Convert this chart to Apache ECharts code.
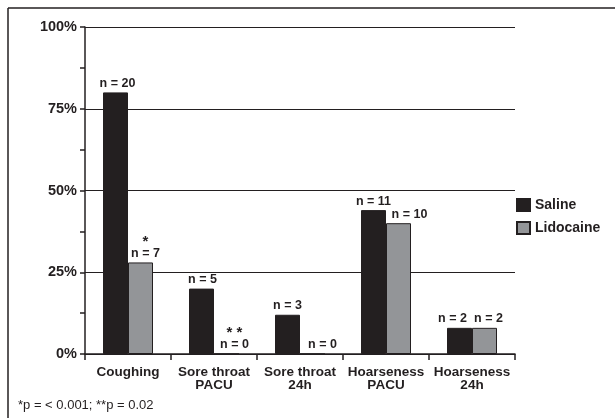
<!DOCTYPE html>
<html>
<head>
<meta charset="utf-8">
<script src="https://cdn.jsdelivr.net/npm/echarts@6/dist/echarts.min.js"></script>
<style>
html,body{margin:0;padding:0;background:#fff;}
#c{width:615px;height:418px;}
</style>
</head>
<body>
<div id="c"></div>
<script>
const categories = ['Coughing', 'Sore throat\nPACU', 'Sore throat\n24h', 'Hoarseness\nPACU', 'Hoarseness\n24h'];
const salineValues = [80, 20, 12, 44, 8];
const lidocaineValues = [28, 0, 0, 40, 8];
const salineLabels = ['n = 20', 'n = 5', 'n = 3', 'n = 11', 'n = 2'];
const lidocaineLabels = ['{s|*}\nn = 7', '{s|* *}\nn = 0', 'n = 0', 'n = 10', 'n = 2'];
const yTicks = [0, 25, 50, 75, 100];
const footnote = '*p = < 0.001; **p = 0.02';

const chart = echarts.init(document.getElementById('c'), null, {renderer: 'canvas'});
const labelFont = '"Liberation Sans", Arial, sans-serif';

function buildData(values, labels, offsets) {
  return values.map((v, i) => ({
    value: v,
    label: { formatter: labels[i], offset: offsets[i] }
  }));
}

const barLabel = {
  show: true, position: 'top', distance: 3,
  fontFamily: labelFont, fontWeight: 'bold', fontSize: 12.5, color: '#231f20', lineHeight: 12,
  rich: { s: { fontFamily: labelFont, fontWeight: 'bold', fontSize: 15, lineHeight: 11, color: '#231f20' } }
};

chart.setOption({
  animation: false,
  backgroundColor: '#fff',
  grid: { left: 85, right: 100, top: 27, bottom: 64, containLabel: false },
  legend: {
    orient: 'vertical',
    left: 511,
    top: 193,
    itemWidth: 13,
    itemHeight: 12,
    itemGap: 9,
    icon: 'rect',
    textStyle: { fontFamily: labelFont, fontWeight: 'bold', fontSize: 14, color: '#231f20', padding: [0, 0, 0, 0] },
    data: ['Saline', 'Lidocaine']
  },
  xAxis: {
    type: 'category',
    data: categories,
    axisLine: { lineStyle: { color: '#231f20', width: 1.5 } },
    axisTick: { show: true, length: 6, lineStyle: { color: '#231f20', width: 1.5 } },
    axisLabel: {
      interval: 0,
      margin: 12,
      fontFamily: labelFont,
      fontWeight: 'bold',
      fontSize: 13.5,
      lineHeight: 13,
      color: '#231f20'
    }
  },
  yAxis: {
    type: 'value',
    min: 0,
    max: 100,
    interval: 25,
    axisLine: { show: true, lineStyle: { color: '#231f20', width: 1.5 } },
    axisTick: { show: true, length: 5, lineStyle: { color: '#231f20', width: 1.5 } },
    minorTick: { show: true, splitNumber: 2, length: 5, lineStyle: { color: '#231f20', width: 1.5 } },
    splitLine: { show: true, lineStyle: { color: '#231f20', width: 1.2 } },
    axisLabel: {
      margin: 8,
      fontFamily: labelFont,
      fontWeight: 'bold',
      fontSize: 14.5,
      color: '#231f20',
      formatter: v => (yTicks.indexOf(v) >= 0 ? v + '%' : '')
    }
  },
  series: [
    {
      name: 'Saline',
      type: 'bar',
      barWidth: 25,
      barGap: '0%',
      itemStyle: { color: '#231f20', borderColor: '#231f20', borderWidth: 1 },
      label: barLabel,
      data: buildData(salineValues, salineLabels, [[2, 0], [1, 0], [0, 0], [0, 0], [-7, 0]])
    },
    {
      name: 'Lidocaine',
      type: 'bar',
      barWidth: 25,
      itemStyle: { color: '#939598', borderColor: '#231f20', borderWidth: 1 },
      label: barLabel,
      data: buildData(lidocaineValues, lidocaineLabels, [[5, 0], [8, 0], [10, 0], [11, 0], [4, 0]])
    }
  ],
  graphic: [
    { type: 'line', shape: { x1: 8, y1: 8, x2: 615, y2: 8 }, style: { stroke: '#231f20', lineWidth: 1.5 } },
    { type: 'line', shape: { x1: 8, y1: 8, x2: 8, y2: 418 }, style: { stroke: '#231f20', lineWidth: 1.5 } },
    { type: 'text', left: 18, top: 399, style: { text: footnote, fontFamily: labelFont, fontSize: 13, fill: '#231f20' } }
  ]
});
</script>
</body>
</html>
